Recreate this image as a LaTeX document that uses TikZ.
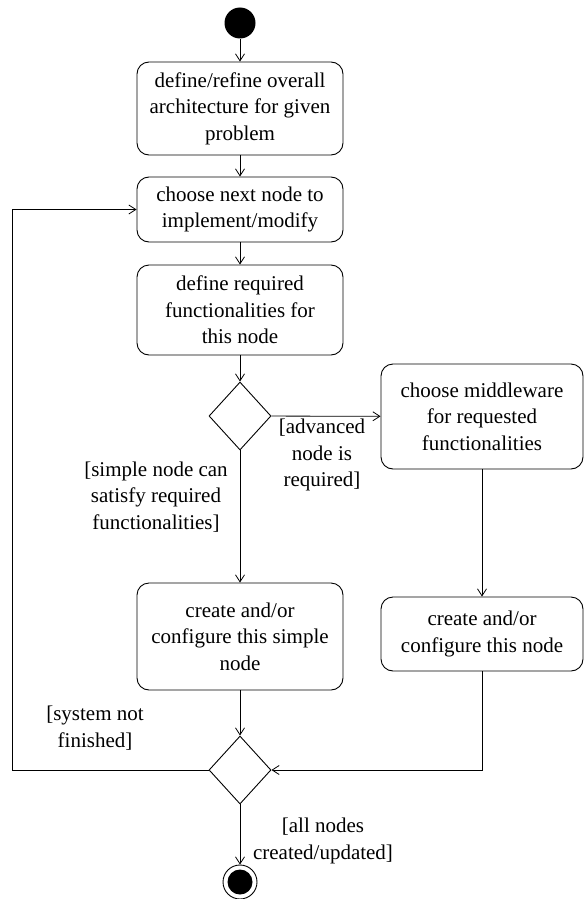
\documentclass[tikz,border=0pt]{standalone}
\usepackage{fontspec}
\setmainfont{Liberation Serif}
\usetikzlibrary{arrows.meta,shapes.geometric}
\begin{document}
\begin{tikzpicture}[x=1pt,y=-1pt,
  txt/.style={font=\fontsize{21}{26.5}\selectfont, align=center, inner sep=0pt},
  act/.style={txt, draw, rounded corners=12pt, line width=0.9pt},
  choice/.style={draw, diamond, minimum width=62pt, minimum height=68pt, inner sep=0pt, line width=0.9pt},
  flow/.style={line width=0.8pt, -{Straight Barb[length=7pt,width=9pt]}}
]
\useasboundingbox (0,0) rectangle (584,899);

% start and end
\node[circle, fill=black, minimum size=31pt, inner sep=0pt] (start) at (240,23) {};
\node[circle, draw, line width=0.9pt, minimum size=34pt, inner sep=0pt] (end) at (240,882) {};
\fill (end.center) circle (12.5pt);

% activities
\node[act, minimum width=206pt, minimum height=93pt] (a1) at (240,108.5)
  {define/refine overall\\architecture for given\\problem};
\node[act, minimum width=206pt, minimum height=65pt] (a2) at (240,209.5)
  {choose next node to\\implement/modify};
\node[act, minimum width=206pt, minimum height=90pt] (a3) at (240,310)
  {define required\\functionalities for\\this node};
\node[choice] (d1) at (240,416) {};
\node[act, minimum width=202pt, minimum height=105pt] (mw) at (482,416.5)
  {choose middleware\\for requested\\functionalities};
\node[act, minimum width=206pt, minimum height=107pt] (simple) at (240,636.5)
  {create and/or\\configure this simple\\node};
\node[act, minimum width=202pt, minimum height=74pt] (cfg) at (482,634)
  {create and/or\\configure this node};
\node[choice] (d2) at (240,770) {};

% guards
\node[txt] (g1) at (322,455) {[advanced\\node is\\required]};
\node[txt] (g2) at (156,497) {[simple node can\\satisfy required\\functionalities]};
\node[txt] (g3) at (95,728) {[system not\\finished]};
\node[txt] (g4) at (323,841) {[all nodes\\created/updated]};

\coordinate (loop) at (12,770);

% connectors
\draw[flow] (start) -- (a1);
\draw[flow] (a1) -- (a2);
\draw[flow] (a2) -- (a3);
\draw[flow] (a3) -- (d1);
\draw[flow] (d1) -- (mw);
\draw[flow] (d1) -- (simple);
\draw[flow] (mw) -- (cfg);
\draw[flow] (simple) -- (d2);
\draw[flow] (cfg.south) |- (d2.east);
\draw[flow] (d2.west) -- (loop) |- (a2.west);
\draw[flow] (d2) -- (end);
\end{tikzpicture}
\end{document}
